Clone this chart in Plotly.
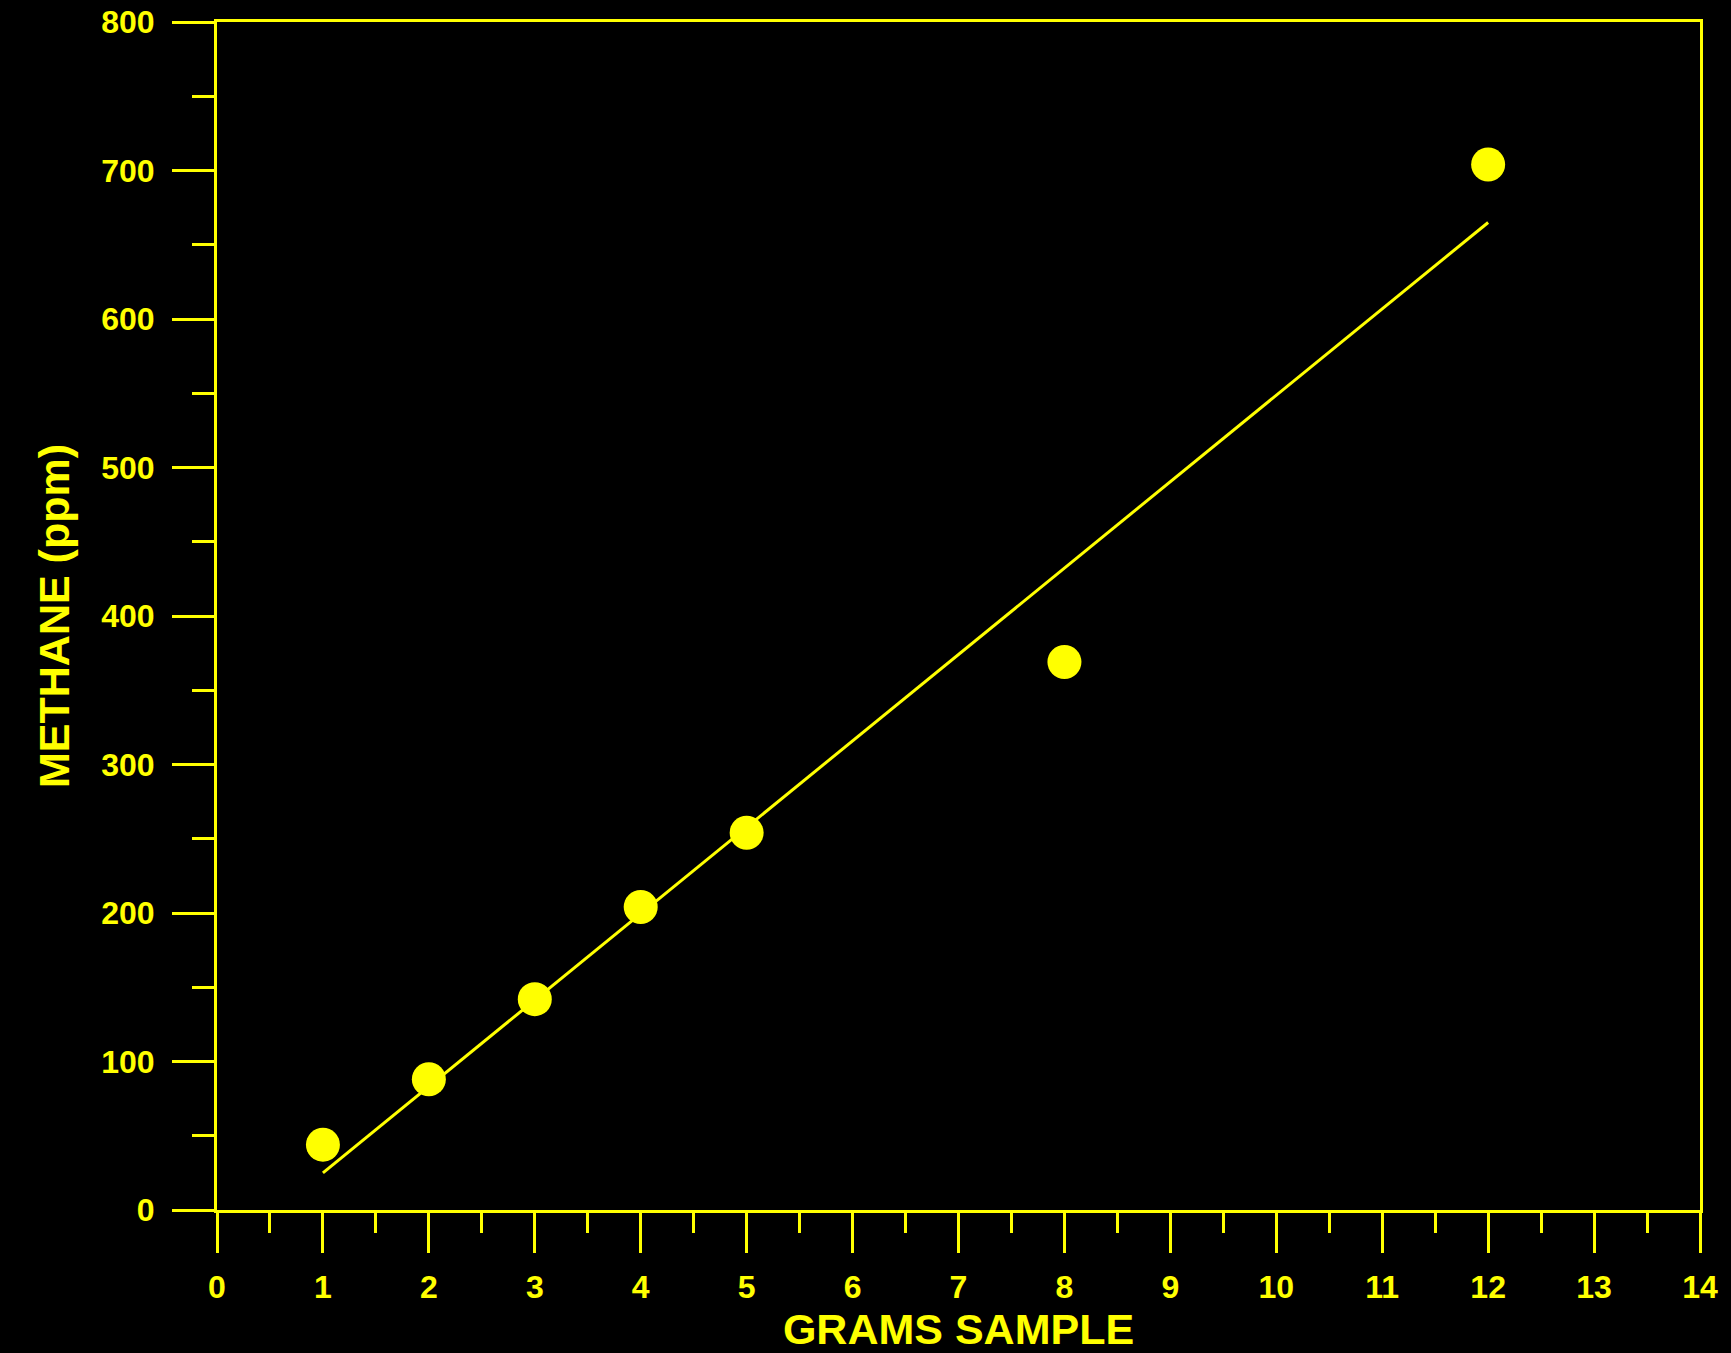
import plotly.graph_objects as go

# Data
grams = [1, 2, 3, 4, 5, 8, 12]
methane = [44, 88, 142, 204, 254, 369, 704]

# Fitted line endpoints
fit_x = [1, 12]
fit_y = [25, 665]

x_ticks = list(range(0, 15))
y_ticks = list(range(0, 801, 100))

YEL = "#ffff00"
FONT = "Liberation Sans, Arial, sans-serif"

fig = go.Figure()
fig.add_trace(go.Scatter(x=fit_x, y=fit_y, mode="lines",
                         line=dict(color=YEL, width=3), showlegend=False, hoverinfo="skip"))
fig.add_trace(go.Scatter(x=grams, y=methane, mode="markers",
                         marker=dict(color=YEL, size=34, line=dict(width=0)), showlegend=False))

fig.update_layout(
    width=1731, height=1353,
    paper_bgcolor="black", plot_bgcolor="black",
    margin=dict(l=217, r=31, t=22, b=143),
    font=dict(family=FONT, color=YEL),
)
fig.update_xaxes(
    range=[0, 14], tickvals=x_ticks, ticktext=[str(v) for v in x_ticks],
    showgrid=False, zeroline=False, automargin=False,
    showline=True, linecolor=YEL, linewidth=3, mirror=True,
    ticks="outside", ticklen=40, tickwidth=3, tickcolor=YEL,
    minor=dict(dtick=0.5, ticks="outside", ticklen=20, tickwidth=3, tickcolor=YEL, showgrid=False),
    tickfont=dict(size=32, color=YEL, family=FONT, weight="bold"),
    ticklabelstandoff=7,
    title=dict(text="GRAMS SAMPLE", font=dict(size=43, color=YEL, family=FONT, weight="bold"), standoff=13),
)
fig.update_yaxes(
    range=[0, 800], tickvals=y_ticks, ticktext=[str(v) for v in y_ticks],
    showgrid=False, zeroline=False, automargin=False,
    showline=True, linecolor=YEL, linewidth=3, mirror=True,
    ticks="outside", ticklen=42, tickwidth=3, tickcolor=YEL,
    minor=dict(dtick=50, ticks="outside", ticklen=22, tickwidth=3, tickcolor=YEL, showgrid=False),
    tickfont=dict(size=32, color=YEL, family=FONT, weight="bold"),
    ticklabelstandoff=11,
    title=dict(text="METHANE (ppm)", font=dict(size=43, color=YEL, family=FONT, weight="bold"), standoff=19),
)

fig.write_html("out.html", config={"displayModeBar": False},
               post_script="document.body.style.margin='0';document.body.style.background='black';")
